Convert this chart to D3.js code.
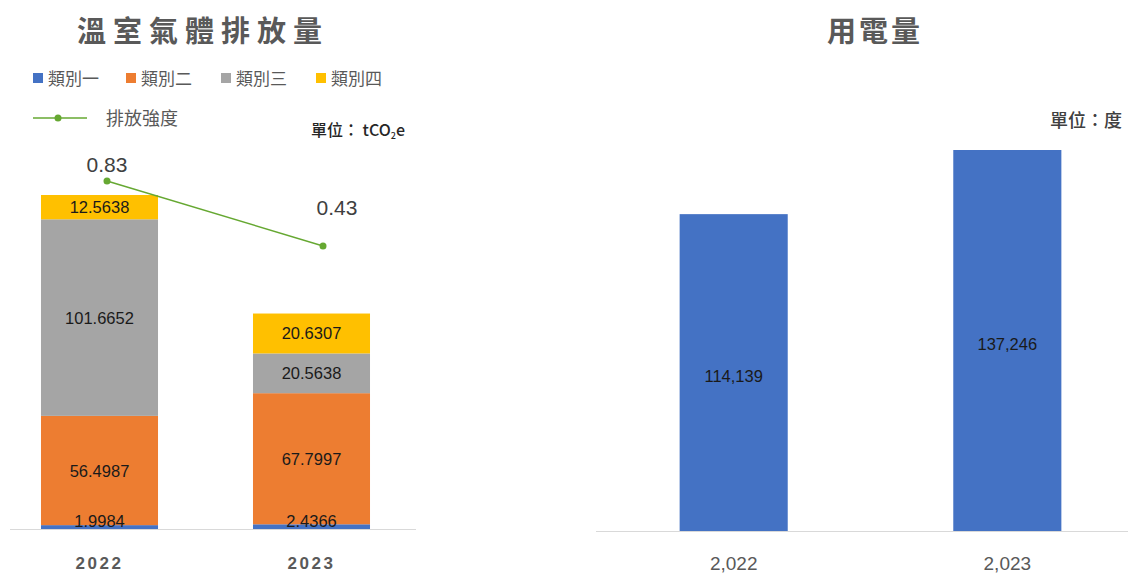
<!DOCTYPE html>
<html lang="zh-Hant">
<head>
  <meta charset="UTF-8">
  <title>溫室氣體排放量 / 用電量</title>
  <style>
    body { margin: 0; background: #ffffff; }
    svg { display: block; font-family: 'Liberation Sans', 'Noto Sans CJK TC', sans-serif; }
    .cjk { font-family: 'Noto Sans CJK TC', sans-serif; }
  </style>
  <script src="https://d3js.org/d3.v7.min.js"></script>
</head>
<body>
  <div id="chart"></div>
  <script>
    // 溫室氣體排放量 (tCO2e)
    const years = ['2022', '2023'];
    const categories = ['類別一', '類別二', '類別三', '類別四'];
    const cat1 = [1.9984, 2.4366];
    const cat2 = [56.4987, 67.7997];
    const cat3 = [101.6652, 20.5638];
    const cat4 = [12.5638, 20.6307];
    const intensity = [0.83, 0.43];
    const catColors = ['#4472C4', '#ED7D31', '#A5A5A5', '#FFC000'];

    // 用電量 (度)
    const elecYears = ['2,022', '2,023'];
    const elecUse = [114139, 137246];

    const W = 1128, H = 574;
    const svg = d3.select('#chart').append('svg')
      .attr('width', W).attr('height', H);

    // ---------- left chart ----------
    const left = svg.append('g');
    const baseY = 529;

    left.append('text').attr('class', 'cjk')
      .attr('x', 203).attr('y', 42)
      .attr('text-anchor', 'middle')
      .attr('font-size', 29).attr('font-weight', 'bold')
      .attr('letter-spacing', 7)
      .attr('fill', '#595959')
      .text('溫室氣體排放量');

    // legend
    const legX = [33, 126, 221, 316];
    categories.forEach((c, i) => {
      left.append('rect')
        .attr('x', legX[i]).attr('y', 73).attr('width', 10).attr('height', 10)
        .attr('fill', catColors[i]);
      left.append('text').attr('class', 'cjk')
        .attr('x', legX[i] + 15).attr('y', 85)
        .attr('font-size', 17).attr('fill', '#595959')
        .text(c);
    });
    left.append('line')
      .attr('x1', 33).attr('x2', 87).attr('y1', 118).attr('y2', 118)
      .attr('stroke', '#66a832').attr('stroke-width', 1.5);
    left.append('circle').attr('cx', 58).attr('cy', 118).attr('r', 3.5).attr('fill', '#66a832');
    left.append('text').attr('class', 'cjk')
      .attr('x', 106).attr('y', 125)
      .attr('font-size', 18).attr('fill', '#595959')
      .text('排放強度');

    const unit = left.append('text').attr('class', 'cjk')
      .attr('x', 311).attr('y', 136)
      .attr('font-size', 16).attr('font-weight', 500).attr('fill', '#262626');
    unit.append('tspan').text('單位： tCO');
    unit.append('tspan').attr('font-size', 9).attr('dy', 3).text('2');
    unit.append('tspan').attr('dy', -3).text('e');

    const x = d3.scaleBand().domain(years).range([-6.5, 417.5]).paddingInner(0.448).paddingOuter(0.224);
    const y = d3.scaleLinear().domain([0, 172.726]).range([baseY, 195]);

    const rows = years.map((yr, i) => ({ year: yr, c0: cat1[i], c1: cat2[i], c2: cat3[i], c3: cat4[i] }));
    const stack = d3.stack().keys(['c0', 'c1', 'c2', 'c3'])(rows);

    stack.forEach((layer, li) => {
      left.append('g').selectAll('rect').data(layer).join('rect')
        .attr('x', d => x(d.data.year))
        .attr('y', d => y(d[1]))
        .attr('width', x.bandwidth())
        .attr('height', d => y(d[0]) - y(d[1]))
        .attr('fill', catColors[li]);
    });
    stack.forEach((layer, li) => {
      left.append('g').selectAll('text').data(layer).join('text')
        .attr('x', d => x(d.data.year) + x.bandwidth() / 2)
        .attr('y', d => li === 0 ? baseY - 2 : (y(d[0]) + y(d[1])) / 2 + 6)
        .attr('text-anchor', 'middle')
        .attr('font-size', 16.5).attr('fill', '#1a1a1a')
        .text(d => d.data['c' + li].toFixed(4));
    });

    left.append('line')
      .attr('x1', 10).attr('x2', 416).attr('y1', baseY + 0.5).attr('y2', baseY + 0.5)
      .attr('stroke', '#d9d9d9').attr('stroke-width', 1);

    left.selectAll('.yr').data(years).join('text')
      .attr('x', d => x(d) + x.bandwidth() / 2)
      .attr('y', 569)
      .attr('text-anchor', 'middle')
      .attr('font-size', 17).attr('font-weight', 'bold')
      .attr('letter-spacing', 2.5)
      .attr('fill', '#595959')
      .text(d => d);

    // intensity line (secondary axis)
    const xl = d3.scalePoint().domain(years).range([107, 323]);
    const y2 = d3.scaleLinear().domain([0.43, 0.83]).range([246, 181]);
    const labelLift = [9, 31];
    left.append('path')
      .datum(intensity)
      .attr('d', d3.line().x((d, i) => xl(years[i])).y(d => y2(d)))
      .attr('fill', 'none').attr('stroke', '#66a832').attr('stroke-width', 1.5);
    left.selectAll('.pt').data(intensity).join('circle')
      .attr('cx', (d, i) => xl(years[i])).attr('cy', d => y2(d))
      .attr('r', 3.5).attr('fill', '#66a832');
    left.selectAll('.pl').data(intensity).join('text')
      .attr('x', (d, i) => xl(years[i]) + (i ? 14 : 0))
      .attr('y', (d, i) => y2(d) - labelLift[i])
      .attr('text-anchor', 'middle')
      .attr('font-size', 21).attr('fill', '#404040')
      .text(d => d.toFixed(2));

    // ---------- right chart ----------
    const right = svg.append('g');
    const baseY2 = 531;

    right.append('text').attr('class', 'cjk')
      .attr('x', 875).attr('y', 42)
      .attr('text-anchor', 'middle')
      .attr('font-size', 29).attr('font-weight', 'bold')
      .attr('letter-spacing', 3)
      .attr('fill', '#595959')
      .text('用電量');

    right.append('text').attr('class', 'cjk')
      .attr('x', 1122).attr('y', 127)
      .attr('text-anchor', 'end')
      .attr('font-size', 18).attr('font-weight', 500).attr('fill', '#404040')
      .text('單位：度');

    const xr = d3.scaleBand().domain(elecYears).range([597, 1144]).paddingInner(0.605).paddingOuter(0.302);
    const yr = d3.scaleLinear().domain([0, 137246]).range([baseY2, 150]);

    right.selectAll('rect').data(elecUse).join('rect')
      .attr('x', (d, i) => xr(elecYears[i]))
      .attr('y', d => yr(d))
      .attr('width', xr.bandwidth())
      .attr('height', d => baseY2 - yr(d))
      .attr('fill', '#4472C4');
    right.selectAll('.vl').data(elecUse).join('text')
      .attr('x', (d, i) => xr(elecYears[i]) + xr.bandwidth() / 2)
      .attr('y', d => (yr(d) + baseY2) / 2 + 9)
      .attr('text-anchor', 'middle')
      .attr('font-size', 16.5).attr('fill', '#1a1a1a')
      .text(d => d3.format(',')(d));

    right.append('line')
      .attr('x1', 596).attr('x2', W).attr('y1', baseY2 + 0.5).attr('y2', baseY2 + 0.5)
      .attr('stroke', '#d9d9d9').attr('stroke-width', 1);

    right.selectAll('.yl').data(elecYears).join('text')
      .attr('x', d => xr(d) + xr.bandwidth() / 2)
      .attr('y', 570)
      .attr('text-anchor', 'middle')
      .attr('font-size', 19).attr('fill', '#595959')
      .text(d => d);
  </script>
</body>
</html>
